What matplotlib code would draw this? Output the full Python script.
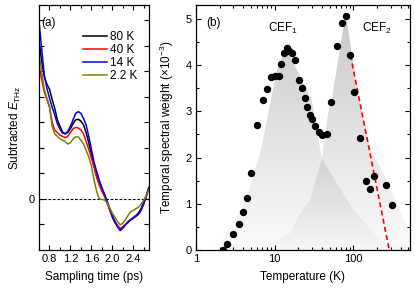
import numpy as np
import matplotlib
matplotlib.use("Agg")
import matplotlib.pyplot as plt
from matplotlib.colors import LinearSegmentedColormap
from matplotlib.ticker import MultipleLocator, LogLocator, NullFormatter

plt.rcParams["font.family"] = ["Liberation Sans", "DejaVu Sans"]
plt.rcParams["font.size"] = 8
plt.rcParams["mathtext.fontset"] = "custom"
plt.rcParams["mathtext.rm"] = "Liberation Sans"
plt.rcParams["mathtext.it"] = "Liberation Sans:italic"

# ---- panel (a): subtracted THz field vs sampling time ----
t_ps = [0.60, 0.65, 0.70, 0.75, 0.80, 0.85, 0.90, 0.95, 1.00, 1.05, 1.10, 1.15,
        1.20, 1.25, 1.30, 1.35, 1.40, 1.45, 1.50, 1.55, 1.60, 1.65, 1.70, 1.75,
        1.80, 1.85, 1.90, 1.95, 2.00, 2.05, 2.10, 2.15, 2.20, 2.25, 2.30, 2.35,
        2.40, 2.45, 2.50, 2.55, 2.60, 2.65, 2.70]
e_80K = [6.20, 5.40, 4.80, 4.50, 4.30, 3.90, 3.55, 3.10, 2.85, 2.62, 2.55, 2.60,
         2.75, 2.95, 3.10, 3.12, 3.05, 2.90, 2.60, 2.20, 1.75, 1.30, 0.90, 0.60,
         0.35, 0.15, -0.10, -0.38, -0.65, -0.88, -1.05, -1.18, -1.10, -1.00, -0.90, -0.82,
         -0.75, -0.68, -0.60, -0.45, -0.20, 0.10, 0.45]
e_40K = [5.19, 4.70, 4.20, 3.90, 3.60, 3.00, 2.70, 2.60, 2.50, 2.45, 2.40, 2.45,
         2.60, 2.75, 2.80, 2.78, 2.70, 2.55, 2.25, 1.95, 1.60, 1.25, 0.85, 0.55,
         0.30, 0.10, -0.15, -0.45, -0.72, -0.92, -1.05, -1.15, -1.10, -1.00, -0.88, -0.80,
         -0.72, -0.65, -0.55, -0.40, -0.15, 0.12, 0.45]
e_14K = [6.95, 5.90, 4.86, 4.34, 3.95, 3.60, 3.29, 2.95, 2.73, 2.58, 2.55, 2.65,
         2.85, 3.10, 3.35, 3.42, 3.35, 3.15, 2.90, 2.45, 1.95, 1.45, 1.08, 0.75,
         0.45, 0.20, -0.08, -0.38, -0.69, -0.92, -1.10, -1.24, -1.15, -1.02, -0.92, -0.82,
         -0.75, -0.66, -0.55, -0.38, -0.12, 0.15, 0.45]
e_2K = [5.70, 5.00, 4.30, 3.95, 3.65, 2.85, 2.55, 2.45, 2.35, 2.30, 2.25, 2.15,
        2.20, 2.35, 2.43, 2.43, 2.30, 2.15, 1.90, 1.65, 1.30, 0.75, 0.30, 0.00,
        -0.02, -0.04, -0.15, -0.35, -0.56, -0.72, -0.88, -1.02, -0.95, -0.82, -0.65, -0.50,
        -0.45, -0.38, -0.33, -0.20, -0.05, 0.15, 0.35]
curve_labels = ["80 K", "40 K", "14 K", "2.2 K"]
curve_colors = ["#000000", "#ff0000", "#0000ff", "#808000"]

# ---- panel (b): temporal spectral weight vs temperature ----
temp_K = [2.2, 2.5, 3.0, 3.5, 4.0, 4.5, 5.0, 6.0, 7.1, 8.1, 9.1, 10.1, 11.3, 12.2,
          13.2, 14.3, 15.3, 16.5, 18.4, 20.3, 22.4, 24.2, 26.1, 28.3, 29.9, 32.9,
          37.0, 40.4, 46.0, 51.4, 61.5, 71.3, 81.6, 91.8, 103, 122, 144, 164, 185,
          258, 310]
weight = [0.00, 0.12, 0.34, 0.57, 0.82, 1.13, 1.67, 2.71, 3.24, 3.49, 3.74, 3.76,
          3.76, 4.02, 4.26, 4.36, 4.31, 4.27, 4.11, 3.68, 3.51, 3.29, 3.09, 2.91,
          2.84, 2.68, 2.55, 2.49, 2.50, 3.20, 4.42, 4.91, 5.07, 4.21, 3.41, 2.43,
          1.50, 1.31, 1.59, 1.40, 0.98]
fit_T = [92, 286]
fit_w = [4.21, 0.0]

# outlines of the shaded CEF peaks
cef1_T = [1.7, 2.65, 4.35, 6.7, 8.2, 10.6, 13.9, 20.3, 29.6, 39.8, 61.5, 100, 219, 525]
cef1_w = [0.0, 0.43, 1.08, 2.16, 2.92, 3.86, 4.37, 3.81, 3.25, 1.98, 1.44, 0.87, 0.22, 0.0]
cef2_T = [5.7, 15.7, 21.1, 28.2, 39.8, 47.4, 53, 80, 118, 168, 253, 391, 525, 525]
cef2_w = [0.0, 0.36, 0.79, 1.08, 1.98, 2.92, 3.23, 5.12, 3.25, 2.16, 1.58, 0.87, 0.37, 0.0]

fig = plt.figure(figsize=(4.15, 2.89), dpi=100)
ax1 = fig.add_axes([0.094, 0.135, 0.265, 0.848])
ax2 = fig.add_axes([0.472, 0.135, 0.516, 0.848])

for ax in (ax1, ax2):
    ax.tick_params(which="both", direction="in", top=True, right=True, width=0.8)
    ax.tick_params(which="major", length=3.5, pad=3)
    ax.tick_params(which="minor", length=2)
    for s in ax.spines.values():
        s.set_linewidth(0.9)

# panel (a)
ax1.axhline(0, color="black", ls=(0, (2.5, 1.5)), lw=0.8)
for y, lab, col in zip([e_80K, e_40K, e_14K, e_2K], curve_labels, curve_colors):
    ax1.plot(t_ps, y, color=col, lw=1.1, label=lab)
ax1.set_xlim(0.6, 2.7)
ax1.set_ylim(-2.0, 7.6)
ax1.xaxis.set_minor_locator(MultipleLocator(0.2))
ax1.set_xticks([0.8, 1.2, 1.6, 2.0, 2.4])
ax1.set_xticklabels(["0.8", "1.2", "1.6", "2.0", "2.4"])
yt = np.arange(-1, 8)
ax1.set_yticks(yt)
ax1.set_yticklabels(["0" if v == 0 else "" for v in yt])
ax1.set_xlabel("Sampling time (ps)", fontsize=8.5)
ax1.set_ylabel(r"Subtracted $E_{\mathrm{THz}}$", fontsize=8.5)
ax1.xaxis.set_label_coords(0.5, -0.084)
ax1.yaxis.set_label_coords(-0.15, 0.5)
ax1.text(0.085, 0.925, "(a)", transform=ax1.transAxes, ha="center", va="center", fontsize=8.5)
ax1.legend(loc="upper left", bbox_to_anchor=(0.40, 0.895), frameon=False,
           handlelength=2.0, handletextpad=0.3, labelspacing=0.1,
           borderpad=0, borderaxespad=0, fontsize=8.5)

# panel (b)
ax2.set_xscale("log")
cmap = LinearSegmentedColormap.from_list("fade", [(0, 0, 0, 0.02), (0, 0, 0, 0.22)])
grad = np.linspace(0, 1, 256).reshape(-1, 1)
for T, w in [(cef1_T, cef1_w), (cef2_T, cef2_w)]:
    poly = ax2.fill(T, w, facecolor="none", edgecolor="none")[0]
    im = ax2.imshow(grad, extent=[1, 525, 0, 5.2], origin="lower", aspect="auto",
                    cmap=cmap, interpolation="bilinear", zorder=0.5)
    im.set_clip_path(poly)
ax2.plot(fit_T, fit_w, color="#ff0000", ls=(0, (3, 2)), lw=1.2, zorder=2)
ax2.plot(temp_K, weight, "o", color="black", ms=4.3, zorder=3)
ax2.set_xlim(1, 525)
ax2.set_ylim(0, 5.3)
ax2.xaxis.set_minor_locator(LogLocator(base=10, subs=np.arange(2, 10)))
ax2.xaxis.set_minor_formatter(NullFormatter())
ax2.set_xticks([1, 10, 100])
ax2.set_xticklabels(["1", "10", "100"])
ax2.yaxis.set_major_locator(MultipleLocator(1))
ax2.yaxis.set_minor_locator(MultipleLocator(0.5))
ax2.set_xlabel("Temperature (K)", fontsize=8.5)
ax2.set_ylabel(r"Temporal spectral weight ($\times$10$^{-3}$)", fontsize=8.5)
ax2.xaxis.set_label_coords(0.5, -0.084)
ax2.yaxis.set_label_coords(-0.095, 0.5)
ax2.text(0.081, 0.928, "(b)", transform=ax2.transAxes, ha="center", va="center", fontsize=8.5)
ax2.text(12.9, 4.8, r"CEF$_1$", ha="center", va="center", fontsize=8.5)
ax2.text(198, 4.8, r"CEF$_2$", ha="center", va="center", fontsize=8.5)

fig.savefig("out.png", dpi=100)
